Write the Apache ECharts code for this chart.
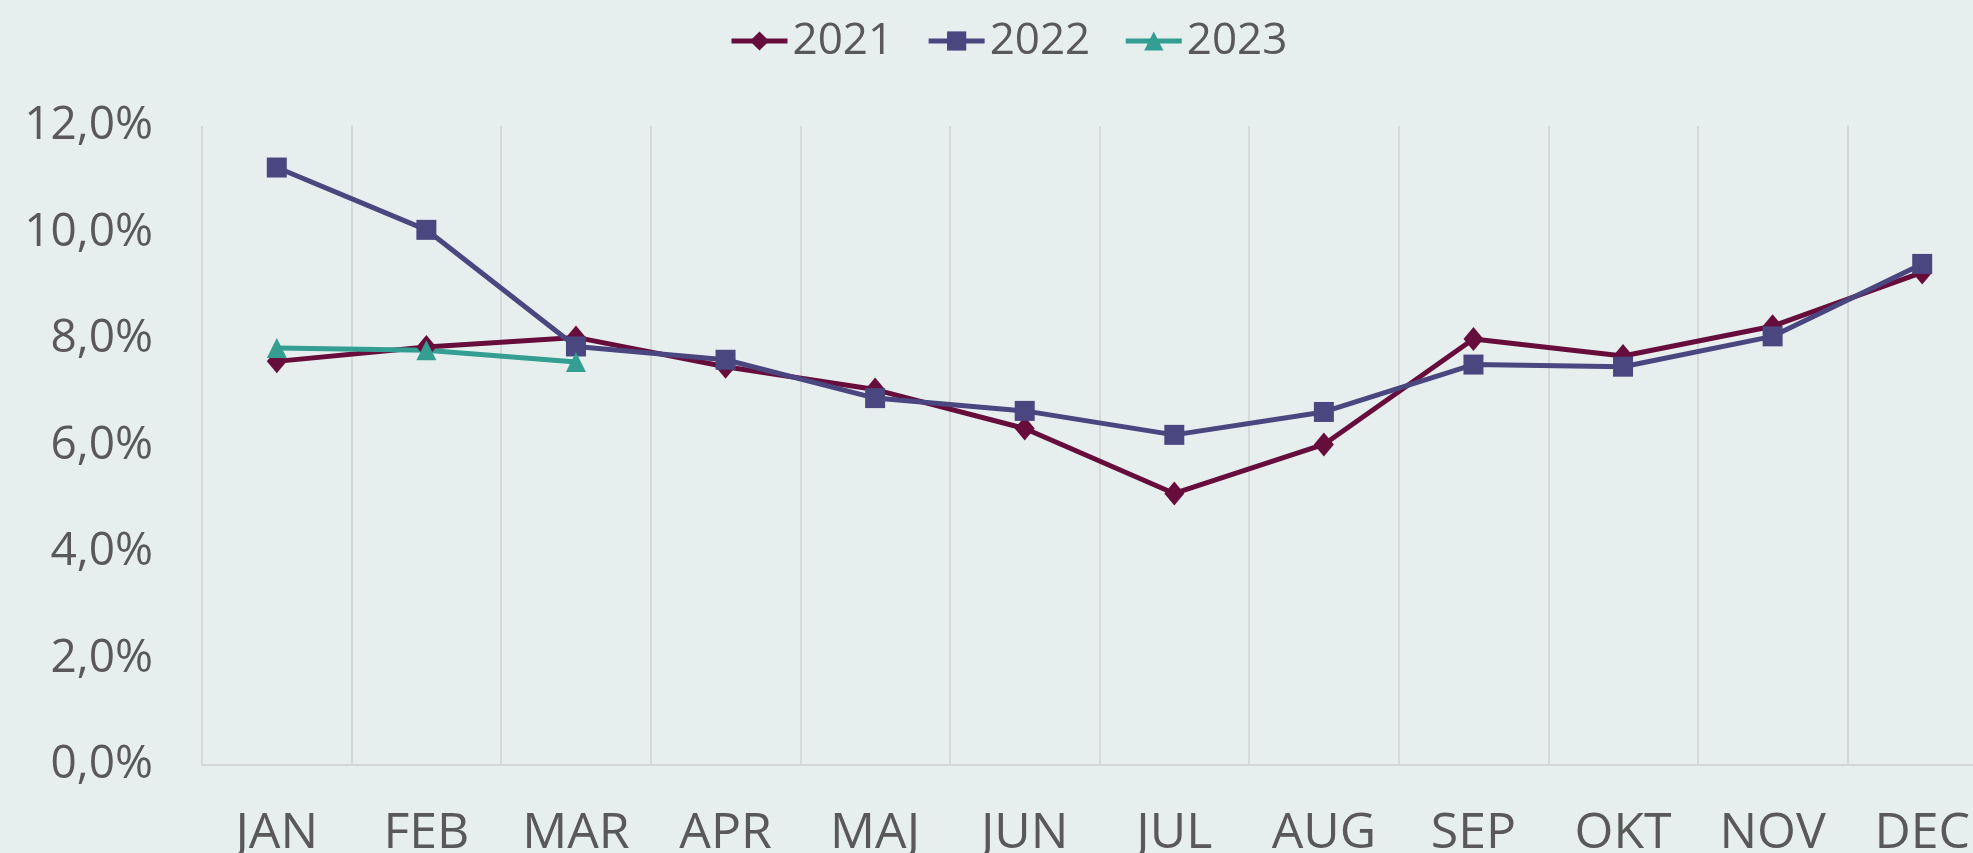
<!DOCTYPE html>
<html>
<head>
<meta charset="utf-8">
<script src="https://cdn.jsdelivr.net/npm/echarts@6/dist/echarts.min.js"></script>
<style>
  html, body { margin: 0; padding: 0; background: #e7efee; }
  #container { width: 1973px; height: 853px; }
</style>
</head>
<body>
<div id="container"></div>
<script>
const months = ['JAN', 'FEB', 'MAR', 'APR', 'MAJ', 'JUN', 'JUL', 'AUG', 'SEP', 'OKT', 'NOV', 'DEC'];
const y2021 = [7.58, 7.85, 8.03, 7.48, 7.05, 6.32, 5.10, 6.02, 8.00, 7.68, 8.24, 9.25];
const y2022 = [11.22, 10.05, 7.86, 7.61, 6.89, 6.65, 6.20, 6.63, 7.52, 7.48, 8.05, 9.41];
const y2023 = [7.83, 7.79, 7.57];

const chart = echarts.init(document.getElementById('container'));

const font = '"Open Sans", "Noto Sans", sans-serif';
const mkLine = (name, data, color, symbol, size) => ({
  name: name,
  type: 'line',
  data: data,
  symbol: symbol,
  symbolSize: size,
  lineStyle: { color: color, width: 5 },
  itemStyle: { color: color },
  animation: false
});

const opt = {
  backgroundColor: '#e7efee',
  textStyle: { fontFamily: font },
  legend: {
    left: 724,
    top: 14,
    itemWidth: 56,
    itemHeight: 24,
    itemGap: 33,
    lineStyle: { width: 5 },
    textStyle: { fontSize: 44, color: '#595959', fontFamily: font },
    data: ['2021', '2022', '2023']
  },
  // plot runs past the right edge (DEC column is cut), so no clamping
  grid: { left: 202, top: 126, width: 1795, height: 639, outerBoundsMode: 'none' },
  xAxis: {
    type: 'category',
    data: months,
    boundaryGap: true,
    axisLine: { show: true, lineStyle: { color: '#d4d6d6', width: 2 } },
    axisTick: { show: false },
    axisLabel: { fontSize: 50, color: '#595959', margin: 44, fontFamily: font },
    splitLine: { show: true, lineStyle: { color: '#d6d9d9', width: 2 } }
  },
  yAxis: {
    type: 'value',
    min: 0,
    max: 12,
    interval: 2,
    axisLine: { show: false },
    axisTick: { show: false },
    splitLine: { show: false },
    axisLabel: {
      fontSize: 46,
      color: '#595959',
      margin: 49,
      fontFamily: font,
      formatter: v => v.toFixed(1).replace('.', ',') + '%'
    }
  },
  series: [
    mkLine('2021', y2021, '#670d3b', 'diamond', [20, 24]),
    mkLine('2022', y2022, '#4a4680', 'rect', 20),
    mkLine('2023', y2023, '#339e91', 'triangle', 20)
  ]
};

chart.setOption(opt);
</script>
</body>
</html>
